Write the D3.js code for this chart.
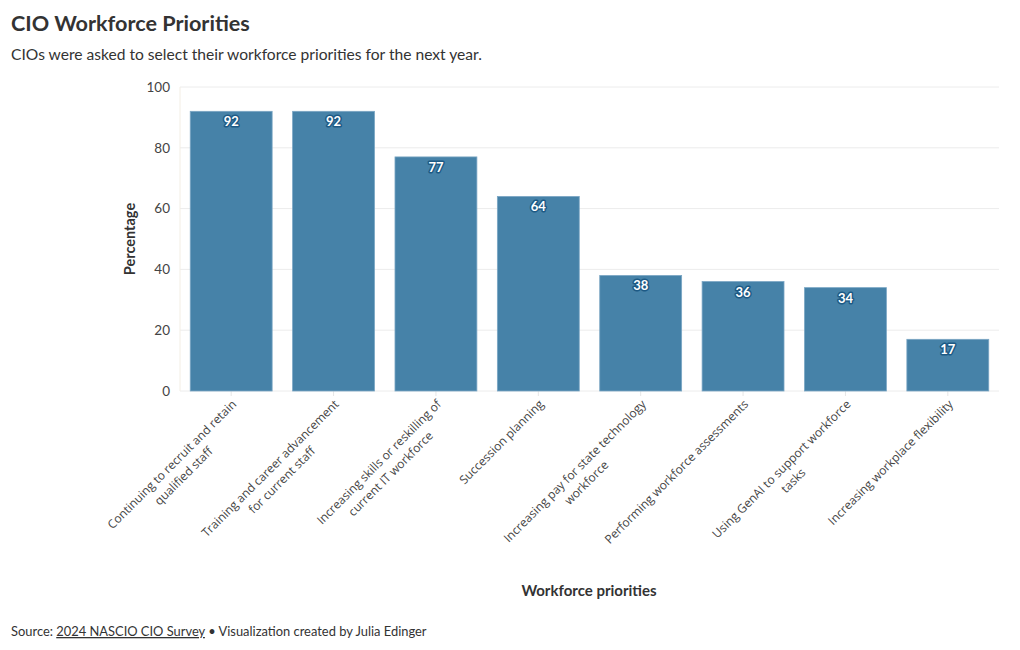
<!DOCTYPE html>
<html><head><meta charset="utf-8">
<script src="https://cdn.jsdelivr.net/npm/d3@7"></script>
<style>
body{margin:0;background:#fff;}
text{font-family:"Source Sans Pro",Lato,sans-serif;}
text.xl{font-family:"Open Sans",sans-serif;}
</style></head>
<body><svg id="c" width="1020" height="650"></svg>
<script>
const categories = [
  ["Continuing to recruit and retain","qualified staff"],
  ["Training and career advancement","for current staff"],
  ["Increasing skills or reskilling of","current IT workforce"],
  ["Succession planning"],
  ["Increasing pay for state technology","workforce"],
  ["Performing workforce assessments"],
  ["Using GenAI to support workforce","tasks"],
  ["Increasing workplace flexibility"]
];
const values = [92, 92, 77, 64, 38, 36, 34, 17];
const yTicks = [0, 20, 40, 60, 80, 100];

const svg = d3.select("#c");
const M = {left:180, right:999, top:87, bottom:391};
const x = d3.scaleBand().domain(d3.range(categories.length)).range([M.left, M.right]).paddingInner(0.2).paddingOuter(0.1);
const y = d3.scaleLinear().domain([0,100]).range([M.bottom, M.top]);

svg.append("text").attr("x",11).attr("y",31).attr("font-size",21.6).attr("font-weight",700).attr("fill","#333").text("CIO Workforce Priorities");
svg.append("text").attr("x",11).attr("y",60).attr("font-size",15.6).attr("fill","#333").text("CIOs were asked to select their workforce priorities for the next year.");

// grid
svg.append("g").selectAll("line").data(yTicks).join("line")
  .attr("x1",M.left).attr("x2",M.right).attr("y1",d=>y(d)).attr("y2",d=>y(d))
  .attr("stroke","#ececec").attr("stroke-width",1);
svg.append("line").attr("x1",M.left).attr("x2",M.left).attr("y1",M.top).attr("y2",M.bottom).attr("stroke","#f3eee4");

// y axis
const ya = svg.append("g").attr("transform",`translate(${M.left-10},0)`)
  .call(d3.axisLeft(y).tickValues(yTicks).tickSize(0).tickPadding(0));
ya.select(".domain").remove();
ya.selectAll("text").attr("font-size",13.5).attr("fill","#444");

svg.append("text").attr("transform",`translate(135,239) rotate(-90)`).attr("text-anchor","middle")
  .attr("font-size",14.5).attr("font-weight",700).attr("fill","#333").text("Percentage");

// x ticks
svg.append("g").selectAll("line").data(categories).join("line")
  .attr("x1",(d,i)=>x(i)+x.bandwidth()/2).attr("x2",(d,i)=>x(i)+x.bandwidth()/2)
  .attr("y1",M.bottom).attr("y2",M.bottom+5).attr("stroke","#e6e6e6");

// bars
svg.append("g").selectAll("rect").data(values).join("rect")
  .attr("x",(d,i)=>x(i)).attr("width",x.bandwidth())
  .attr("y",d=>y(d)).attr("height",d=>y(0)-y(d))
  .attr("fill","#4682a8").attr("stroke","#7aa6c4").attr("stroke-width",0.8);

// value labels
svg.append("g").selectAll("text").data(values).join("text")
  .attr("x",(d,i)=>x(i)+x.bandwidth()/2).attr("y",d=>y(d)+15)
  .attr("text-anchor","middle").attr("font-size",13).attr("font-weight",700)
  .attr("fill","#fff").attr("stroke","#1d5a85").attr("stroke-width",3).attr("paint-order","stroke")
  .attr("stroke-linejoin","round").text(d=>d);

// x labels
const lg = svg.append("g").selectAll("g").data(categories).join("g")
  .attr("transform",(d,i)=>`translate(${x(i)+x.bandwidth()/2+6},${M.bottom+14}) rotate(-45)`);
lg.each(function(lines){
  const g = d3.select(this);
  const ts = lines.map((l,k)=>g.append("text").attr("class","xl").attr("y",k*16.5).attr("text-anchor","middle")
     .attr("font-size",12).attr("fill","#444").text(l));
  const w = d3.max(ts,t=>t.node().getComputedTextLength());
  ts.forEach(t=>t.attr("x",-w/2));
});

svg.append("text").attr("x",589).attr("y",596).attr("text-anchor","middle").attr("font-size",15)
  .attr("font-weight",700).attr("fill","#333").text("Workforce priorities");

const f = svg.append("text").attr("x",11).attr("y",636).attr("font-size",12.9).attr("fill","#333");
f.append("tspan").text("Source: ");
f.append("tspan").attr("text-decoration","underline").text("2024 NASCIO CIO Survey");
f.append("tspan").text(" • Visualization created by Julia Edinger");
</script></body></html>
